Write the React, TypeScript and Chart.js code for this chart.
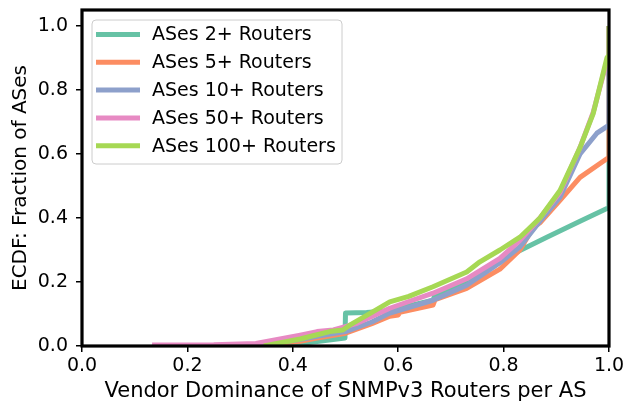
import React, { useEffect, useRef } from "react";
import { Chart, registerables } from "chart.js";

Chart.register(...registerables);

const FONT = "DejaVu Sans";

const seriesLabels = [
  "ASes 2+ Routers",
  "ASes 5+ Routers",
  "ASes 10+ Routers",
  "ASes 50+ Routers",
  "ASes 100+ Routers",
];
const seriesColors = ["#66c2a5", "#fc8d62", "#8da0cb", "#e78ac3", "#a6d854"];

const xTicks = [0, 0.2, 0.4, 0.6, 0.8, 1.0];
const yTicks = [0, 0.2, 0.4, 0.6, 0.8, 1.0];

const r2X = [0.33, 0.4, 0.45, 0.499, 0.5, 0.54, 0.584, 0.62, 0.666, 0.67, 0.7, 0.755, 0.806, 0.882, 0.945, 0.996, 1.0, 1.0];
const r2Y = [0.0, 0.005, 0.015, 0.025, 0.103, 0.105, 0.11, 0.125, 0.143, 0.16, 0.18, 0.225, 0.278, 0.34, 0.39, 0.43, 0.43, 1.0];

const r5X = [0.33, 0.414, 0.446, 0.5, 0.55, 0.584, 0.6, 0.603, 0.666, 0.67, 0.73, 0.793, 0.831, 0.856, 0.869, 0.907, 0.945, 1.0, 1.0];
const r5Y = [0.002, 0.015, 0.025, 0.04, 0.07, 0.093, 0.097, 0.105, 0.128, 0.145, 0.18, 0.24, 0.3, 0.37, 0.385, 0.455, 0.527, 0.59, 1.0];

const r10X = [0.33, 0.414, 0.446, 0.5, 0.55, 0.584, 0.666, 0.73, 0.793, 0.831, 0.869, 0.907, 0.945, 0.977, 1.0, 1.0];
const r10Y = [0.002, 0.02, 0.03, 0.045, 0.075, 0.103, 0.143, 0.19, 0.26, 0.31, 0.39, 0.465, 0.6, 0.665, 0.69, 1.0];

const r50X = [0.133, 0.25, 0.33, 0.414, 0.446, 0.477, 0.52, 0.584, 0.666, 0.73, 0.793, 0.831, 0.869, 0.907, 0.945, 0.97, 0.996, 1.0, 1.0];
const r50Y = [0.003, 0.004, 0.008, 0.034, 0.045, 0.05, 0.07, 0.118, 0.165, 0.21, 0.274, 0.33, 0.4, 0.48, 0.62, 0.73, 0.89, 0.9, 1.0];

const r100X = [0.345, 0.414, 0.446, 0.47, 0.495, 0.508, 0.55, 0.584, 0.62, 0.666, 0.73, 0.755, 0.793, 0.831, 0.869, 0.907, 0.945, 0.97, 0.996, 1.0, 1.0];
const r100Y = [0.0, 0.022, 0.035, 0.045, 0.05, 0.065, 0.105, 0.138, 0.155, 0.185, 0.231, 0.263, 0.3, 0.34, 0.4, 0.486, 0.62, 0.726, 0.9, 0.91, 1.0];

const seriesX = [r2X, r5X, r10X, r50X, r100X];
const seriesY = [r2Y, r5Y, r10Y, r50Y, r100Y];

const frameAndLegend = {
  id: "frameAndLegend",
  afterDraw(chart: any) {
    const ctx = chart.ctx;
    const a = chart.chartArea;
    ctx.save();
    ctx.strokeStyle = "#000";
    ctx.lineWidth = 3.2;
    ctx.strokeRect(a.left, a.top, a.right - a.left, a.bottom - a.top);
    const bx = a.left + 10, by = a.top + 10, bw = 250, bh = 144, r = 4;
    ctx.beginPath();
    ctx.moveTo(bx + r, by);
    ctx.arcTo(bx + bw, by, bx + bw, by + bh, r);
    ctx.arcTo(bx + bw, by + bh, bx, by + bh, r);
    ctx.arcTo(bx, by + bh, bx, by, r);
    ctx.arcTo(bx, by, bx + bw, by, r);
    ctx.closePath();
    ctx.fillStyle = "rgba(255,255,255,0.8)";
    ctx.fill();
    ctx.strokeStyle = "#cccccc";
    ctx.lineWidth = 1;
    ctx.stroke();
    ctx.font = `19px "${FONT}"`;
    ctx.textBaseline = "middle";
    ctx.textAlign = "left";
    seriesLabels.forEach((lab, i) => {
      const cy = by + 14.5 + i * 27.8;
      ctx.strokeStyle = seriesColors[i];
      ctx.lineWidth = 5;
      ctx.lineCap = "butt";
      ctx.beginPath();
      ctx.moveTo(bx + 4, cy);
      ctx.lineTo(bx + 48, cy);
      ctx.stroke();
      ctx.fillStyle = "#000";
      ctx.fillText(lab, bx + 60, cy + 1);
    });
    ctx.restore();
  },
};

export default function App() {
  const ref = useRef<HTMLCanvasElement>(null);
  useEffect(() => {
    const datasets = seriesLabels.map((label, i) => ({
      label,
      data: seriesX[i].map((x, j) => ({ x, y: seriesY[i][j] })),
      borderColor: seriesColors[i],
      backgroundColor: seriesColors[i],
      borderWidth: 5,
      pointRadius: 0,
      fill: false,
      tension: 0,
      borderJoinStyle: "round" as const,
      order: seriesLabels.length - i,
    }));
    const chart = new Chart(ref.current as HTMLCanvasElement, {
      type: "line",
      data: { datasets },
      options: {
        animation: false,
        responsive: false,
        maintainAspectRatio: false,
        parsing: false as any,
        layout: { padding: { top: 10, right: 17, left: 0, bottom: 0 } },
        plugins: {
          legend: { display: false },
          tooltip: { enabled: false },
        },
        scales: {
          x: {
            type: "linear",
            min: 0,
            max: 1,
            afterBuildTicks: (s: any) => {
              s.ticks = xTicks.map((v) => ({ value: v }));
            },
            afterFit: (s: any) => {
              s.height = 61;
              s.paddingLeft = 0;
              s.paddingRight = 0;
            },
            ticks: {
              color: "#000",
              font: { family: FONT, size: 19 },
              padding: 3,
              maxRotation: 0,
              autoSkip: false,
              callback: (v: any) => Number(v).toFixed(1),
            },
            grid: {
              drawOnChartArea: false,
              drawTicks: true,
              tickLength: 6,
              color: "#000",
              lineWidth: 1.5,
            },
            border: { display: false },
            title: {
              display: true,
              text: "Vendor Dominance of SNMPv3 Routers per AS",
              color: "#000",
              font: { family: FONT, size: 21 },
              padding: { top: 0, bottom: 3 },
            },
          },
          y: {
            type: "linear",
            min: 0,
            max: 1.05,
            afterBuildTicks: (s: any) => {
              s.ticks = yTicks.map((v) => ({ value: v }));
            },
            afterFit: (s: any) => {
              s.width = 82;
              s.paddingTop = 0;
              s.paddingBottom = 0;
            },
            ticks: {
              color: "#000",
              font: { family: FONT, size: 19 },
              padding: 8,
              autoSkip: false,
              callback: (v: any) => Number(v).toFixed(1),
            },
            grid: {
              drawOnChartArea: false,
              drawTicks: true,
              tickLength: 6,
              color: "#000",
              lineWidth: 1.5,
            },
            border: { display: false },
            title: {
              display: true,
              text: "ECDF: Fraction of ASes",
              color: "#000",
              font: { family: FONT, size: 20 },
              padding: { top: 9, bottom: 0 },
            },
          },
        },
      },
      plugins: [frameAndLegend],
    });
    return () => chart.destroy();
  }, []);
  return (
    <div style={{ position: "absolute", left: 0, top: 0, width: 626, height: 407 }}>
      <canvas ref={ref} width={626} height={407} style={{ width: 626, height: 407, display: "block" }} />
    </div>
  );
}
